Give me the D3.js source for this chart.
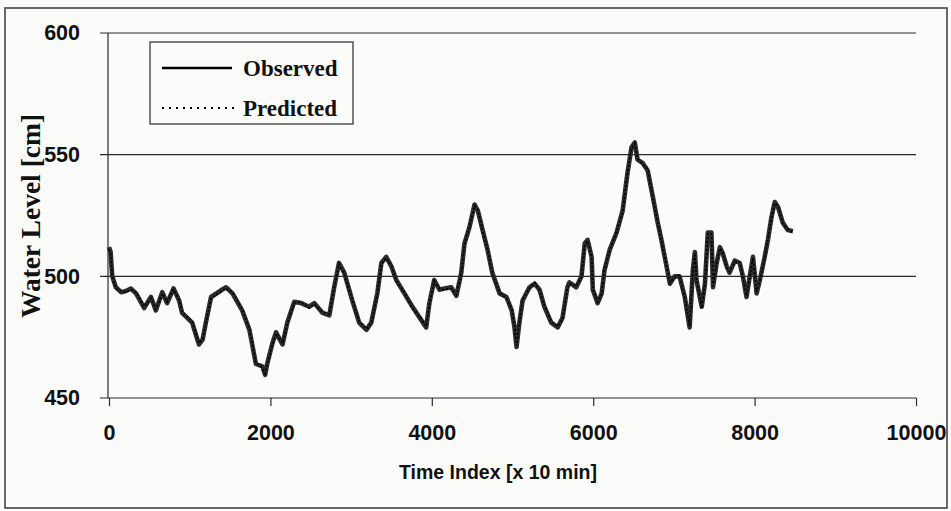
<!DOCTYPE html>
<html>
<head>
<meta charset="utf-8">
<script src="https://cdn.jsdelivr.net/npm/d3@7"></script>
<style>
    html, body { margin: 0; padding: 0; background: #fbfbfa; }
    svg { display: block; }
</style>
</head>
<body>
<div class="chart"></div>
<script>
// time index [x 10 min]
const timeIndex = [
    0, 20, 40, 85, 150, 210, 270, 335, 435, 520, 580, 660, 720, 800, 870, 905,
    1030, 1115, 1160, 1200, 1265, 1400, 1450, 1530, 1650, 1740, 1820, 1900, 1935, 1960,
    2025, 2070, 2150, 2210, 2295, 2380, 2480, 2545, 2645, 2730, 2790, 2850, 2915,
    3015, 3100, 3190, 3250, 3325, 3375, 3435, 3500, 3560, 3660, 3760, 3870, 3930, 3970,
    4030, 4095, 4155, 4240, 4305, 4365, 4405, 4465, 4530, 4570, 4630, 4690, 4750, 4840,
    4925, 4990, 5025, 5050, 5085, 5125, 5210, 5275, 5335, 5395, 5480, 5560, 5620, 5680,
    5705, 5790, 5855, 5895, 5930, 5980, 5995, 6055, 6105, 6140, 6205, 6290, 6365, 6425,
    6475, 6515, 6550, 6615, 6675, 6740, 6800, 6845, 6910, 6950, 7010, 7070, 7135, 7195,
    7235, 7260, 7280, 7345, 7385, 7420, 7465, 7485, 7530, 7570, 7605, 7655, 7690, 7755,
    7815, 7855, 7900, 7940, 7980, 8025, 8065, 8125, 8165, 8210, 8250, 8290, 8350, 8410, 8475
];

// observed water level [cm]
const observed = [
    512, 510, 500, 495.5, 493.5, 494, 495, 493, 487, 491.5, 486, 493.5, 489, 495, 490, 485,
    481, 472, 474, 481, 491.5, 494.5, 495.5, 493, 486, 478, 464, 463, 459.5, 464,
    472.5, 477, 472, 481, 489.5, 489, 487.5, 489, 485, 484, 495.5, 505.5, 501.5,
    490, 481, 478, 481, 493, 505.5, 508, 504, 498.5, 493, 487.5, 482, 479, 489,
    498.5, 494.5, 495, 495.5, 492, 501.5, 513.5, 520, 529.5, 527, 519, 511, 501.5, 493,
    491.5, 486, 479, 471, 481, 490, 495.5, 497, 494.5, 487.5, 481, 479, 483, 495.5,
    497.5, 495.5, 500, 513.5, 515, 508, 494.5, 489, 493, 502.5, 511, 518, 527, 542.5,
    553, 555, 548, 546.5, 543.5, 532.5, 522, 515, 504, 497, 500, 500, 491.5, 479,
    502.5, 510, 498.5, 487.5, 497, 518, 518, 495.5, 505.5, 512, 509.5, 504, 501.5, 506.5,
    505.5, 500, 491.5, 500, 508, 493, 498.5, 508, 515, 524.5, 530.5, 528.5, 522, 519, 518.5
];

// predicted water level [cm] (lies on top of the observed trace)
const predicted = [
    511, 509, 500.5, 495, 494, 493.5, 494.5, 493.5, 487.5, 491, 486.5, 493, 489.5, 494.5, 490.5, 485.5,
    481.5, 472.5, 474.5, 480.5, 491, 494, 495, 493.5, 486.5, 478.5, 464.5, 462.5, 460, 463.5,
    472, 476.5, 472.5, 480.5, 489, 489.5, 487, 488.5, 485.5, 484.5, 495, 505, 501,
    490.5, 481.5, 478.5, 480.5, 492.5, 505, 507.5, 504.5, 498, 493.5, 487, 482.5, 479.5, 488.5,
    498, 495, 494.5, 495, 492.5, 501, 513, 520.5, 529, 527.5, 518.5, 511.5, 501, 493.5,
    491, 486.5, 479.5, 471.5, 480.5, 490.5, 495, 497.5, 494, 488, 481.5, 479.5, 482.5, 495,
    497, 496, 499.5, 513, 514.5, 508.5, 495, 489.5, 492.5, 503, 510.5, 518.5, 526.5, 542,
    552.5, 554.5, 548.5, 546, 544, 532, 522.5, 514.5, 504.5, 497.5, 499.5, 500.5, 491, 479.5,
    502, 509.5, 499, 487, 497.5, 517.5, 517.5, 496, 505, 511.5, 510, 503.5, 502, 506,
    506, 499.5, 492, 499.5, 507.5, 493.5, 498, 507.5, 515.5, 524, 530, 529, 521.5, 519.5, 518
];

const yTicks = [450, 500, 550, 600];
const xTicks = [0, 2000, 4000, 6000, 8000, 10000];
const legendLabels = ['Observed', 'Predicted'];

const width = 951, height = 511;

const svg = d3.select('.chart')
    .append('svg')
    .attr('width', width)
    .attr('height', height);

// outer frame
svg.append('rect')
    .attr('x', 5).attr('y', 8)
    .attr('width', 942).attr('height', 500)
    .attr('fill', 'none')
    .attr('stroke', '#3a3a3a')
    .attr('stroke-width', 1.5);

const x = d3.scaleLinear().domain([0, 10000]).range([109, 916]);
const y = d3.scaleLinear().domain([450, 600]).range([398, 33]);

// gridlines (with outward tick stubs)
svg.append('g')
    .selectAll('line')
    .data(yTicks)
    .join('line')
    .attr('x1', 100)
    .attr('x2', x(10000))
    .attr('y1', d => y(d))
    .attr('y2', d => y(d))
    .attr('stroke', '#2a2a2a')
    .attr('stroke-width', 1.2);

// y axis labels
const yAxis = d3.axisLeft(y).tickValues(yTicks).tickSize(0).tickPadding(0);
svg.append('g')
    .attr('transform', 'translate(80,0)')
    .call(yAxis)
    .call(g => g.select('.domain').remove())
    .selectAll('text')
    .attr('font-family', 'Liberation Sans, Arial, sans-serif')
    .attr('font-weight', 'bold')
    .attr('font-size', 21.5)
    .attr('fill', '#111');

// y axis line
svg.append('line')
    .attr('x1', 108).attr('x2', 108)
    .attr('y1', y(600)).attr('y2', y(450))
    .attr('stroke', '#2a2a2a')
    .attr('stroke-width', 1.2);

// x axis ticks + labels
const xAxis = d3.axisBottom(x).tickValues(xTicks).tickSize(8).tickPadding(19)
    .tickFormat(d3.format('d'));
svg.append('g')
    .attr('transform', `translate(0,${y(450)})`)
    .call(xAxis)
    .call(g => g.select('.domain').remove())
    .call(g => g.selectAll('line').attr('stroke', '#2a2a2a').attr('stroke-width', 1.2))
    .selectAll('text')
    .attr('font-family', 'Liberation Sans, Arial, sans-serif')
    .attr('font-weight', 'bold')
    .attr('font-size', 21.5)
    .attr('fill', '#111');

// axis titles
svg.append('text')
    .attr('x', 498)
    .attr('y', 479)
    .attr('text-anchor', 'middle')
    .attr('font-family', 'Liberation Sans, Arial, sans-serif')
    .attr('font-weight', 'bold')
    .attr('font-size', 19.5)
    .attr('fill', '#111')
    .text('Time Index [x 10 min]');

svg.append('text')
    .attr('transform', 'translate(40,216) rotate(-90)')
    .attr('text-anchor', 'middle')
    .attr('font-family', 'Liberation Serif, Times New Roman, serif')
    .attr('font-weight', 'bold')
    .attr('font-size', 27.5)
    .attr('fill', '#111')
    .text('Water Level [cm]');

// series
const seriesLine = d3.line()
    .x((d, i) => x(timeIndex[i]))
    .y(d => y(d));

svg.append('path')
    .datum(observed)
    .attr('d', seriesLine)
    .attr('fill', 'none')
    .attr('stroke', '#2b2b2b')
    .attr('stroke-width', 4.6)
    .attr('stroke-linejoin', 'round');

svg.append('path')
    .datum(predicted)
    .attr('d', seriesLine)
    .attr('fill', 'none')
    .attr('stroke', '#000')
    .attr('stroke-width', 1.6)
    .attr('stroke-dasharray', '2,2');

// legend
const legend = svg.append('g');
legend.append('rect')
    .attr('x', 150).attr('y', 42)
    .attr('width', 203).attr('height', 82)
    .attr('fill', '#fbfbfa')
    .attr('stroke', '#2a2a2a')
    .attr('stroke-width', 1.2);

const legendRows = legend.selectAll('g.row')
    .data(legendLabels)
    .join('g')
    .attr('class', 'row')
    .attr('transform', (d, i) => `translate(0,${i ? 108 : 68})`);

legendRows.append('line')
    .attr('x1', 162).attr('x2', d => d === 'Observed' ? 232 : 238)
    .attr('y1', 0).attr('y2', 0)
    .attr('stroke', '#000')
    .attr('stroke-width', d => d === 'Observed' ? 2.4 : 1.8)
    .attr('stroke-dasharray', d => d === 'Observed' ? null : '2,5');

legendRows.append('text')
    .attr('x', 243)
    .attr('y', 8)
    .attr('font-family', 'Liberation Serif, Times New Roman, serif')
    .attr('font-weight', 'bold')
    .attr('font-size', 23)
    .attr('fill', '#111')
    .text(d => d);
</script>
</body>
</html>
